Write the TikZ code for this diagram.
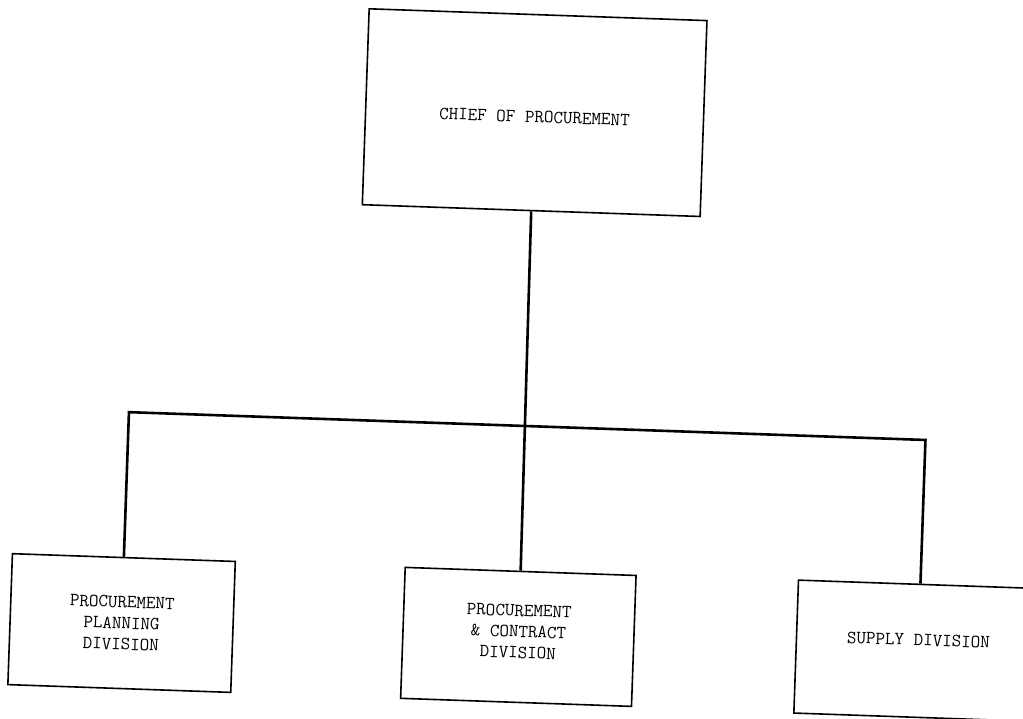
\documentclass[tikz,border=0pt]{standalone}
\begin{document}
\begin{tikzpicture}[x=1pt,y=1pt,
  box/.style={draw=black, line width=1.6pt, rectangle, inner sep=0pt, align=center,
    font=\ttfamily\fontsize{18.5}{21}\selectfont},
  conn/.style={draw=black, line width=2.6pt, line join=miter}]
\useasboundingbox (0,0) rectangle (1023,-719);
\clip (0,0) rectangle (1023,-719);
\fill[white] (0,0) rectangle (1023,-719);
\begin{scope}[rotate around={-2:(512,-360)}, transform shape]
  \node[box, minimum width=338, minimum height=196, text height=20pt] (chief) at (526,-112) {CHIEF OF PROCUREMENT};
  \node[box, minimum width=223, minimum height=131] (ppd) at (131,-636.5) {PROCUREMENT\\PLANNING\\DIVISION};
  \node[box, minimum width=231, minimum height=131, text depth=11pt] (pcd) at (528,-636.5) {PROCUREMENT\\\& CONTRACT\\DIVISION};
  \node[box, minimum width=244, minimum height=133, text depth=22pt] (sd) at (928,-636.5) {SUPPLY DIVISION};
  \coordinate (jm) at (526,-425.5);
  \draw[conn] (ppd.north) |- (jm) -| (sd.north);
  \draw[conn] (chief.south) -- (pcd.north);
\end{scope}
\end{tikzpicture}
\end{document}
